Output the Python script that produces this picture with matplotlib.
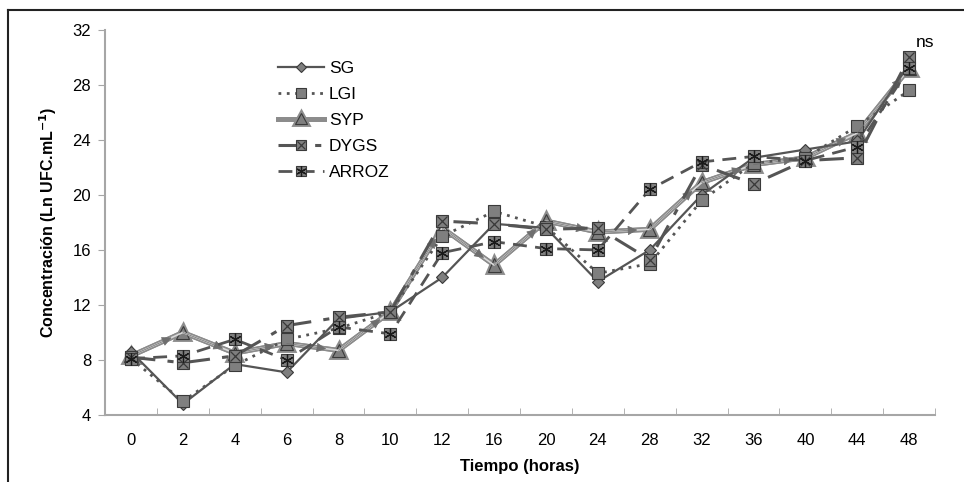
import matplotlib.pyplot as plt
import matplotlib.patheffects as pe
from matplotlib.lines import Line2D
import numpy as np

plt.rcParams.update({
    "font.family": "Liberation Sans",
    "font.size": 12,
})

# ----------------------------- data ------------------------------------
horas = ["0", "2", "4", "6", "8", "10", "12", "16", "20", "24", "28",
         "32", "36", "40", "44", "48"]

sg    = [8.6, 4.8, 7.7, 7.1, 11.0, 11.5, 14.0, 17.9, 17.6, 13.7, 16.0,
         20.0, 22.7, 23.3, 23.9, 29.5]
lgi   = [8.1, 5.0, 7.6, 9.5, 10.3, 11.5, 17.0, 18.8, 17.7, 14.3, 15.0,
         19.6, 22.3, 22.7, 25.0, 27.6]
syp   = [8.3, 10.0, 8.5, 9.2, 8.7, 11.5, 17.6, 14.9, 18.1, 17.3, 17.5,
         20.9, 22.2, 22.7, 24.5, 29.2]
dygs  = [8.2, 7.8, 8.3, 10.5, 11.1, 11.5, 18.1, 17.9, 17.5, 17.6, 15.3,
         22.2, 20.8, 22.5, 22.7, 30.0]
arroz = [8.1, 8.3, 9.5, 8.0, 10.4, 9.9, 15.8, 16.6, 16.1, 16.0, 20.4,
         22.4, 22.8, 22.5, 23.5, 29.2]

# ----------------------------- styling ---------------------------------
LINE = "#555555"
FILL = "#7f7f7f"
EDGE = "#3a3a3a"
AXIS = "#a6a6a6"

fig = plt.figure(figsize=(9.64, 4.82), dpi=100)
ax = fig.add_axes([0.109, 0.139, 0.861, 0.799])

x = np.arange(len(horas))
mk = dict(markerfacecolor=FILL, markeredgecolor=EDGE, markeredgewidth=0.8)

h_sg, = ax.plot(x, sg, color=LINE, lw=1.6, marker="D", markersize=6.5, **mk,
                zorder=4)
h_lgi, = ax.plot(x, lgi, color=LINE, lw=2.0, ls=(0, (1, 2)), marker="s",
                 markersize=8.5, **mk, zorder=4)

# SYP: light double line with arrowheads
h_syp, = ax.plot(x, syp, color="#8c8c8c", lw=3.5, marker="^", markersize=9.5,
                 **mk, zorder=3,
                 path_effects=[pe.Stroke(linewidth=3.5, foreground="#8c8c8c"),
                               pe.Normal()])
ax.plot(x, syp, color="#d9d9d9", lw=1.2, zorder=3)
for i in range(len(x) - 1):
    ax.annotate("", xy=(x[i + 1], syp[i + 1]), xytext=(x[i], syp[i]),
                arrowprops=dict(arrowstyle="-|>", color="#6e6e6e", lw=0.5,
                                mutation_scale=15, shrinkA=0, shrinkB=9),
                zorder=4)

h_dygs, = ax.plot(x, dygs, color=LINE, lw=2.2, ls=(0, (8, 4, 2, 4)),
                  marker="s", markersize=8.5, **mk, zorder=4)
h_dygs_x, = ax.plot(x, dygs, ls="none", marker="x", markersize=7.5,
                    markeredgecolor=EDGE, markeredgewidth=0.9, zorder=5)

h_arroz, = ax.plot(x, arroz, color=LINE, lw=2.0, ls=(0, (5, 3)),
                   marker="s", markersize=8, **mk, zorder=4)
h_arroz_s, = ax.plot(x, arroz, ls="none", marker=(6, 2, 0), markersize=8.5,
                     markeredgecolor="#1a1a1a", markeredgewidth=0.9, zorder=5)

ax.text(15.13, 31.1, "ns", fontsize=12.5, ha="left", va="center")

# ----------------------------- axes ------------------------------------
ax.set_xlim(-0.5, 15.5)
ax.set_ylim(4, 32)
ax.set_yticks(np.arange(4, 33, 4))
ax.set_xticks(x)
ax.set_xticklabels(horas)
ax.set_xticks(np.arange(-0.5, 15.6, 1), minor=True)
ax.tick_params(axis="x", which="major", length=0, pad=13)
ax.tick_params(axis="x", which="minor", length=5, color=AXIS, direction="in")
ax.tick_params(axis="y", length=5, color=AXIS, direction="out", pad=5)

for side in ("top", "right"):
    ax.spines[side].set_visible(False)
for side in ("left", "bottom"):
    ax.spines[side].set_color(AXIS)
    ax.spines[side].set_linewidth(1.5)

ax.set_xlabel("Tiempo (horas)", fontweight="bold", fontsize=12, labelpad=8)
ax.set_ylabel(r"Concentración (Ln UFC.mL$^{\mathbf{-1}}$)", fontweight="bold",
              fontsize=11.5, labelpad=10)

handles = [h_sg, h_lgi, h_syp, (h_dygs, h_dygs_x), (h_arroz, h_arroz_s)]
labels = ["SG", "LGI", "SYP", "DYGS", "ARROZ"]
ax.legend(handles, labels, loc="upper left", bbox_to_anchor=(0.19, 0.96),
          frameon=False, fontsize=12.5, handlelength=2.6, labelspacing=0.62,
          handletextpad=0.3, markerscale=0.85)

# outer frame (top and left edges visible in the source)
fig.add_artist(Line2D([8 / 964, 8 / 964], [0, 1 - 10 / 482],
                      transform=fig.transFigure, color="#222222", lw=1.5))
fig.add_artist(Line2D([8 / 964, 1], [1 - 10 / 482, 1 - 10 / 482],
                      transform=fig.transFigure, color="#222222", lw=1.5))

fig.savefig("out.png", dpi=100)
